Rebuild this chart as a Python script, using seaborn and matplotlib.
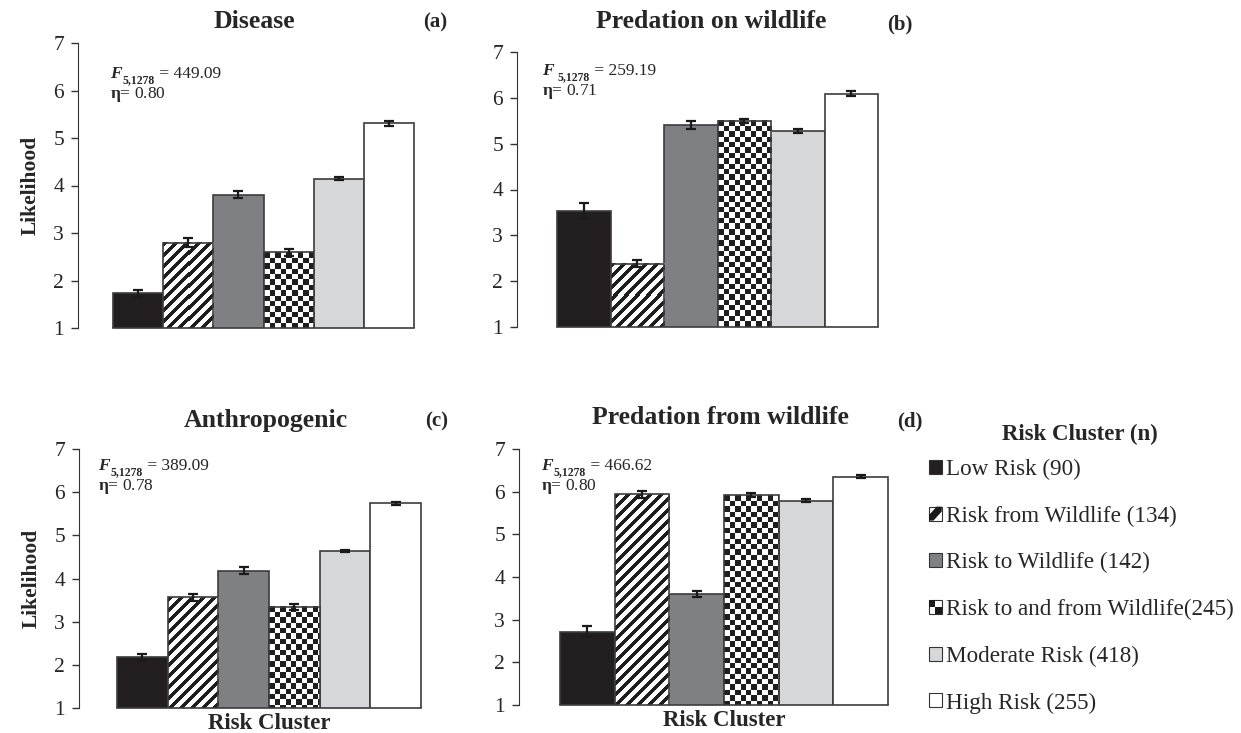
import numpy as np
import matplotlib
matplotlib.use('Agg')
import matplotlib.pyplot as plt
import seaborn as sns
from matplotlib.patches import Rectangle, Polygon, Patch
from matplotlib.legend_handler import HandlerBase

sns.set_style('ticks')
plt.rcParams['font.family'] = ['Liberation Serif', 'DejaVu Serif']
plt.rcParams['mathtext.fontset'] = 'custom'
plt.rcParams['mathtext.rm'] = 'Liberation Serif'
plt.rcParams['mathtext.bf'] = 'Liberation Serif:bold'

# data
categories = ['Low Risk', 'Risk from Wildlife', 'Risk to Wildlife',
              'Risk to and from Wildlife', 'Moderate Risk', 'High Risk']
legend_labels = ['Low Risk (90)', 'Risk from Wildlife (134)', 'Risk to Wildlife (142)',
                 'Risk to and from Wildlife(245)', 'Moderate Risk (418)', 'High Risk (255)']
panel_titles = ['Disease', 'Predation on wildlife', 'Anthropogenic', 'Predation from wildlife']
panel_letters = ['(a)', '(b)', '(c)', '(d)']
f_values = ['449.09', '259.19', '389.09', '466.62']
eta_values = ['0.80', '0.71', '0.78', '0.80']

disease_means = [1.73, 2.80, 3.81, 2.59, 4.14, 5.31]
disease_err = [0.07, 0.09, 0.08, 0.065, 0.03, 0.05]
pred_on_means = [3.53, 2.38, 5.40, 5.50, 5.28, 6.09]
pred_on_err = [0.17, 0.08, 0.09, 0.04, 0.04, 0.05]
anthro_means = [2.18, 3.56, 4.18, 3.35, 4.64, 5.74]
anthro_err = [0.08, 0.08, 0.08, 0.07, 0.03, 0.04]
pred_from_means = [2.72, 5.94, 3.61, 5.92, 5.79, 6.35]
pred_from_err = [0.12, 0.08, 0.07, 0.05, 0.03, 0.04]

all_means = [disease_means, pred_on_means, anthro_means, pred_from_means]
all_err = [disease_err, pred_on_err, anthro_err, pred_from_err]

colors = ['#231f20', '#ffffff', '#7f8083', '#ffffff', '#d6d7d9', '#ffffff']
patterns = [None, 'stripe', None, 'checker', None, None]
edge = '#3c3c3c'

W, H = 1241, 733
fig = plt.figure(figsize=(W / 100, H / 100), dpi=100)
renderer = fig.canvas.get_renderer()

# panel geometry in pixels: spine x, bars left, bars right, y of 7, y of 1
geom = [(78, 113, 414, 43, 328),
        (517, 557, 878, 52, 327),
        (79, 117, 421, 449, 708),
        (519, 560, 888, 449, 705)]
title_pos = [((254, 22), (435, 22)), ((711, 22), (900, 24)),
             ((266, 420), (437, 421)), ((720, 418), (910, 421))]
stat_pos = [(110, 78), (542, 75), (98, 470), (541, 470)]
sub_gap = [0, 3, 0, 0]


def fill_pattern(ax, patch, kind):
    bb = patch.get_window_extent()
    x0, x1 = patch.get_x(), patch.get_x() + patch.get_width()
    y0, y1 = ax.get_ylim()[0], patch.get_y() + patch.get_height()
    top_px = ax.transData.transform((0, y1))[1]
    bot_px = ax.transData.transform((0, y0))[1]
    h = int(round(top_px - bot_px))
    w = int(round(bb.width))
    r, c = np.mgrid[0:h, 0:w]
    if kind == 'stripe':
        img = ((c + r) % 11) < 5
    else:
        img = ((np.floor(c / 5.4) + np.floor(r / 5.4)) % 2) == 0
    img = np.where(img, 0.12, 1.0)
    ax.imshow(img, cmap='gray', vmin=0, vmax=1, extent=(x0, x1, y0, y1),
              origin='upper', interpolation='nearest', aspect='auto', zorder=1.5)
    patch.set_facecolor('none')
    patch.set_zorder(2)


def px_text(x, y, s, **kw):
    return fig.text(x / W, 1 - y / H, s, **kw)


for i in range(4):
    sx, bl, br, yt, yb = geom[i]
    unit = (br - bl) / 6
    xl = -0.5 - (bl - sx) / unit
    xr = 5.5 + 3 / unit
    ax_right = br + 3
    ax = fig.add_axes([sx / W, 1 - yb / H, (ax_right - sx) / W, (yb - yt) / H])
    sns.barplot(x=categories, y=all_means[i], hue=categories, order=categories,
                hue_order=categories, palette=colors, saturation=1, width=1.0,
                edgecolor=edge, linewidth=1.2, legend=False, ax=ax)
    ax.set_xlim(xl, xr)
    ax.set_ylim(1, 7)
    ax.set_yticks(range(1, 8))
    ax.tick_params(axis='y', labelsize=15.5, length=5, width=1, direction='out', pad=5, color='#333333')
    ax.tick_params(axis='x', length=0, labelbottom=False)
    for s in ['top', 'right']:
        ax.spines[s].set_visible(False)
    ax.spines['left'].set_color('#333333')
    ax.spines['bottom'].set_bounds(-0.5, 5.5)
    ax.spines['bottom'].set_color(edge)
    ax.spines['bottom'].set_linewidth(1.2)
    ax.patch.set_alpha(0)

    bars = ax.patches[:6]
    for bar, kind in zip(bars, patterns):
        if kind:
            fill_pattern(ax, bar, kind)
    xs = [b.get_x() + b.get_width() / 2 for b in bars]
    ax.errorbar(xs, all_means[i], yerr=all_err[i], fmt='none', ecolor='#1a1a1a',
                elinewidth=1.6, capsize=3.5, capthick=1.6, zorder=4)

    ax.set_xlabel('')
    ax.set_ylabel('')
    if i in (0, 2):
        ax.set_ylabel('Likelihood', fontsize=15.5, fontweight='bold', labelpad=9)
    if i in (2, 3):
        ax.set_xlabel('Risk Cluster', fontsize=16.5, fontweight='bold')
        cx = ax.transAxes.inverted().transform(ax.transData.transform((2.5, 1)))[0]
        ax.xaxis.set_label_coords(cx, -0.018, transform=ax.transAxes)
        ax.xaxis.label.set_va('top')

    (tx, ty), (lx, ly) = title_pos[i]
    px_text(tx, ty, panel_titles[i], ha='center', va='center', fontsize=18.5, fontweight='bold')
    px_text(lx, ly, panel_letters[i], ha='center', va='center', fontsize=15, fontweight='bold')

    # F statistic: F, bold subscript, value
    px, py = stat_pos[i]
    t_f = px_text(px, py, 'F', ha='left', va='baseline', fontsize=12.5,
                  fontweight='bold', fontstyle='italic')
    x_end = t_f.get_window_extent(renderer).x1 + 1 + sub_gap[i]
    t_s = fig.text(x_end / W, 1 - (py + 5) / H, '5,1278', ha='left', va='baseline',
                   fontsize=8.5, fontweight='bold')
    x_end = t_s.get_window_extent(renderer).x1
    fig.text(x_end / W, 1 - py / H, ' = ' + f_values[i], ha='left', va='baseline', fontsize=12.5)
    px_text(px, py + 20, r'$\mathbf{η}$' + '= ' + eta_values[i],
            ha='left', va='baseline', fontsize=12.5)


class PatternHandler(HandlerBase):
    def __init__(self, kind, color):
        super().__init__()
        self.kind = kind
        self.color = color

    def create_artists(self, legend, orig_handle, xdescent, ydescent, width, height, fontsize, trans):
        x0, y0 = -xdescent, -ydescent
        arts = [Rectangle((x0, y0), width, height, facecolor=self.color,
                          edgecolor='#333333', lw=0.8, transform=trans)]
        if self.kind == 'stripe':
            arts.append(Polygon([(x0 + width * 0.35, y0), (x0 + width, y0 + height * 0.65),
                                 (x0 + width, y0 + height), (x0 + width * 0.6, y0 + height),
                                 (x0, y0 + height * 0.4), (x0, y0)],
                                facecolor='#1a1a1a', lw=0, transform=trans))
        elif self.kind == 'checker':
            arts.append(Rectangle((x0, y0 + height / 2), width / 2, height / 2,
                                  facecolor='#1a1a1a', lw=0, transform=trans))
            arts.append(Rectangle((x0 + width / 2, y0), width / 2, height / 2,
                                  facecolor='#1a1a1a', lw=0, transform=trans))
        return arts


px_text(1080, 434, 'Risk Cluster (n)', ha='center', va='center', fontsize=16.5, fontweight='bold')
handles = [Patch(facecolor=c, edgecolor='#333333') for c in colors]
hmap = {h: PatternHandler(k, c if k is None else '#ffffff') for h, k, c in zip(handles, patterns, colors)}
fig.legend(handles, legend_labels, handler_map=hmap, loc='upper left',
           bbox_to_anchor=(929 / W, 1 - 459 / H), frameon=False,
           fontsize=16.7, handlelength=0.55, handleheight=0.55, handletextpad=0.2,
           labelspacing=1.1, borderpad=0, borderaxespad=0)

fig.savefig('out.png', dpi=100)
